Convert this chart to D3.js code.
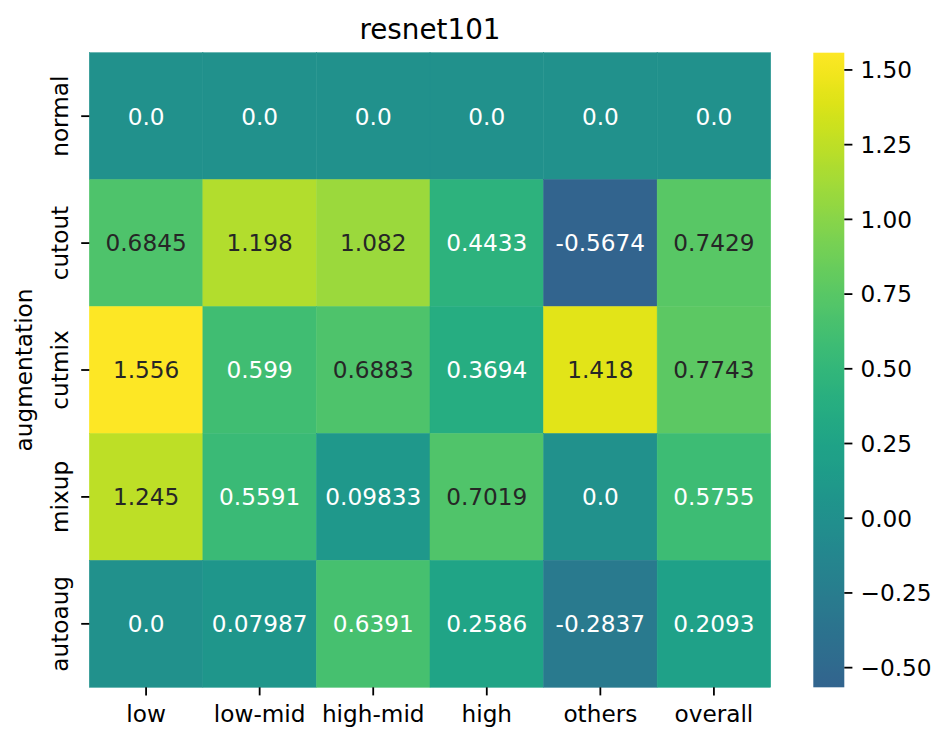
<!DOCTYPE html>
<html>
<head>
<meta charset="utf-8">
<script src="https://cdn.jsdelivr.net/npm/d3@7"></script>
<style>
  body { margin: 0; background: #fff; }
  text { font-family: "DejaVu Sans", sans-serif; }
</style>
</head>
<body>
<div id="chart"></div>
<script>
var rowNames = ["normal", "cutout", "cutmix", "mixup", "autoaug"];
var colNames = ["low", "low-mid", "high-mid", "high", "others", "overall"];

var normalVals  = [0.0, 0.0, 0.0, 0.0, 0.0, 0.0];
var cutoutVals  = [0.6845, 1.198, 1.082, 0.4433, -0.5674, 0.7429];
var cutmixVals  = [1.556, 0.599, 0.6883, 0.3694, 1.418, 0.7743];
var mixupVals   = [1.245, 0.5591, 0.09833, 0.7019, 0.0, 0.5755];
var autoaugVals = [0.0, 0.07987, 0.6391, 0.2586, -0.2837, 0.2093];

var cbarTicks = [-0.5, -0.25, 0, 0.25, 0.5, 0.75, 1.0, 1.25, 1.5];

var matrix = [normalVals, cutoutVals, cutmixVals, mixupVals, autoaugVals];

var W = 952, H = 745;
var margin = { left: 89.3, top: 52.7, right: 770.7, bottom: 687.3 };
var fs = 23.2;
var tickLen = 8.1;

var svg = d3.select("#chart").append("svg")
    .attr("width", W)
    .attr("height", H);

var x = d3.scaleBand().domain(colNames).range([margin.left, margin.right]);
var y = d3.scaleBand().domain(rowNames).range([margin.top, margin.bottom]);

// seaborn style colormap centred on 0
var cells = [];
matrix.forEach(function(row, i) {
    row.forEach(function(v, j) {
        cells.push({ row: rowNames[i], col: colNames[j], value: v });
    });
});
var ext = d3.extent(cells, function(d) { return d.value; });
var vmin = ext[0], vmax = ext[1];
var vrange = Math.max(vmax, -vmin);
var tScale = d3.scaleLinear().domain([-vrange, vrange]).range([0, 1]);
function color(v) { return d3.interpolateViridis(tScale(v)); }

function lum(c) {
    var rgb = d3.rgb(c);
    var f = function(u) {
        u = u / 255;
        return u <= 0.03928 ? u / 12.92 : Math.pow((u + 0.055) / 1.055, 2.4);
    };
    return 0.2126 * f(rgb.r) + 0.7152 * f(rgb.g) + 0.0722 * f(rgb.b);
}

var fmt = d3.formatLocale({ decimal: ".", thousands: ",", grouping: [3], currency: ["", ""], minus: "-" }).format(".4~g");
function label(v) { return v === 0 ? "0.0" : fmt(v); }

svg.append("g").selectAll("rect")
    .data(cells)
    .enter().append("rect")
    .attr("x", function(d) { return x(d.col); })
    .attr("y", function(d) { return y(d.row); })
    .attr("width", x.bandwidth())
    .attr("height", y.bandwidth())
    .attr("fill", function(d) { return color(d.value); })
    .attr("stroke", function(d) { return color(d.value); })
    .attr("stroke-width", 0.5);

svg.append("g").selectAll("text")
    .data(cells)
    .enter().append("text")
    .attr("x", function(d) { return x(d.col) + x.bandwidth() / 2; })
    .attr("y", function(d) { return y(d.row) + y.bandwidth() / 2; })
    .attr("dy", "0.36em")
    .attr("text-anchor", "middle")
    .style("font-size", fs + "px")
    .style("fill", function(d) { return lum(color(d.value)) > 0.408 ? "#262626" : "#ffffff"; })
    .text(function(d) { return label(d.value); });

// x axis
var xAxis = d3.axisBottom(x).tickSize(tickLen).tickPadding(8.1);
var gx = svg.append("g")
    .attr("transform", "translate(0," + margin.bottom + ")")
    .call(xAxis);
gx.select(".domain").remove();
gx.selectAll(".tick line").attr("stroke", "#000").attr("stroke-width", 1.8);
gx.selectAll(".tick text")
    .attr("y", null).attr("dy", null)
    .attr("transform", "translate(0,34.7)")
    .style("font-size", fs + "px")
    .style("font-family", "DejaVu Sans")
    .attr("fill", "#000");

// y axis
var yAxis = d3.axisLeft(y).tickSize(tickLen);
var gy = svg.append("g")
    .attr("transform", "translate(" + margin.left + ",0)")
    .call(yAxis);
gy.select(".domain").remove();
gy.selectAll(".tick line").attr("stroke", "#000").attr("stroke-width", 1.8);
gy.selectAll(".tick text")
    .attr("x", null).attr("dy", null)
    .attr("transform", "translate(" + (68 - margin.left) + ",0) rotate(-90)")
    .attr("text-anchor", "middle")
    .style("font-size", fs + "px")
    .style("font-family", "DejaVu Sans")
    .attr("fill", "#000");

// axis label
svg.append("text")
    .attr("transform", "translate(31.5," + ((margin.top + margin.bottom) / 2) + ") rotate(-90)")
    .attr("text-anchor", "middle")
    .style("font-size", fs + "px")
    .text("augmentation");

// title
svg.append("text")
    .attr("x", (margin.left + margin.right) / 2)
    .attr("y", 39.3)
    .attr("text-anchor", "middle")
    .style("font-size", "27.8px")
    .text("resnet101");

// colorbar
var cbX = 813.3, cbW = 31;
var cy = d3.scaleLinear().domain([vmin, vmax]).range([margin.bottom, margin.top]);

var grad = svg.append("defs").append("linearGradient")
    .attr("id", "cbgrad")
    .attr("x1", "0").attr("y1", "1").attr("x2", "0").attr("y2", "0");
d3.range(0, 1.0001, 0.02).forEach(function(s) {
    var v = vmin + s * (vmax - vmin);
    grad.append("stop").attr("offset", s).attr("stop-color", color(v));
});

svg.append("rect")
    .attr("x", cbX)
    .attr("y", margin.top)
    .attr("width", cbW)
    .attr("height", margin.bottom - margin.top)
    .attr("fill", "url(#cbgrad)");

var cAxis = d3.axisRight(cy)
    .tickValues(cbarTicks)
    .tickFormat(d3.format(".2f"))
    .tickSize(tickLen)
    .tickPadding(8.1);
var gc = svg.append("g")
    .attr("transform", "translate(" + (cbX + cbW) + ",0)")
    .call(cAxis);
gc.select(".domain").remove();
gc.selectAll(".tick line").attr("stroke", "#000").attr("stroke-width", 1.8);
gc.selectAll(".tick text")
    .attr("dy", "0.36em")
    .style("font-size", fs + "px")
    .style("font-family", "DejaVu Sans")
    .attr("fill", "#000");
</script>
</body>
</html>
